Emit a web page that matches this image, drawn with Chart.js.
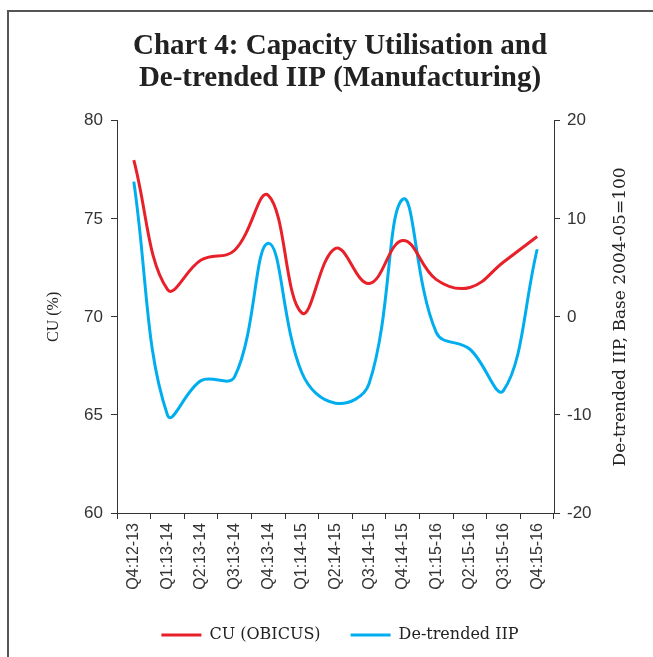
<!DOCTYPE html>
<html>
<head>
<meta charset="utf-8">
<script src="https://cdn.jsdelivr.net/npm/chart.js@4"></script>
<style>
  html, body { margin: 0; padding: 0; background: #fff; }
  #wrap { position: relative; width: 653px; height: 657px; overflow: hidden; }
  #frame { position: absolute; left: 7px; top: 10px; right: -10px; bottom: -10px;
           border-top: 2px solid #555; border-left: 2px solid #555; }
  #c { position: absolute; left: 0; top: 0; }
</style>
</head>
<body>
<div id="wrap">
  <div id="frame"></div>
  <canvas id="c" width="653" height="657"></canvas>
</div>
<script>
const quarters = ['Q4:12-13', 'Q1:13-14', 'Q2:13-14', 'Q3:13-14', 'Q4:13-14', 'Q1:14-15', 'Q2:14-15',
                  'Q3:14-15', 'Q4:14-15', 'Q1:15-16', 'Q2:15-16', 'Q3:15-16', 'Q4:15-16'];
const cuObicus = [78.0, 71.4, 72.9, 73.4, 76.2, 70.2, 73.5, 71.7, 73.9, 71.9, 71.5, 72.8, 74.1];
const detrendedIip = [13.8, -10.0, -6.5, -6.1, 7.5, -5.7, -8.8, -6.8, 12.0, -1.6, -3.3, -7.5, 6.9];

const cuTicks = [60, 65, 70, 75, 80];
const iipTicks = [-20, -10, 0, 10, 20];

const tickFont = { family: 'Liberation Sans', size: 17 };
const axisColor = '#333';

// right title reads bottom-to-top, Chart.js would flip it, so draw it here
const rightTitle = {
    id: 'rightTitle',
    afterDraw(chart) {
        const c = chart.ctx;
        c.save();
        c.translate(621, chart.chartArea.top + (chart.chartArea.bottom - chart.chartArea.top) / 2);
        c.rotate(-Math.PI / 2);
        c.font = '17px "DejaVu Serif"';
        c.fillStyle = '#222';
        c.textAlign = 'center';
        c.textBaseline = 'middle';
        c.fillText('De-trended IIP, Base 2004-05=100', 0, 0);
        c.restore();
    }
};

new Chart(document.getElementById('c'), {
    type: 'line',
    data: {
        labels: quarters,
        datasets: [{
            label: 'CU (OBICUS)',
            data: cuObicus,
            yAxisID: 'y',
            borderColor: '#e8202a',
            backgroundColor: '#e8202a',
            borderWidth: 3,
            pointRadius: 0,
            tension: 0.4
        }, {
            label: 'De-trended IIP',
            data: detrendedIip,
            yAxisID: 'y1',
            borderColor: '#00aeef',
            backgroundColor: '#00aeef',
            borderWidth: 3,
            pointRadius: 0,
            tension: 0.4
        }]
    },
    options: {
        responsive: false,
        animation: false,
        layout: { padding: { left: 41, right: 14, top: 0, bottom: 4 } },
        plugins: {
            title: {
                display: true,
                text: ['Chart 4: Capacity Utilisation and', 'De-trended IIP (Manufacturing)'],
                font: { family: 'Liberation Serif', size: 29, weight: 'bold', lineHeight: 1.1 },
                color: '#222',
                padding: { top: 31, bottom: 26 }
            },
            legend: {
                position: 'bottom',
                labels: {
                    usePointStyle: true,
                    pointStyle: 'line',
                    pointStyleWidth: 40,
                    font: { family: 'DejaVu Serif', size: 16 },
                    color: '#222',
                    padding: 30
                }
            },
            tooltip: { enabled: false }
        },
        scales: {
            x: {
                offset: true,
                grid: { offset: true, drawOnChartArea: false, tickLength: 6, color: axisColor, lineWidth: 1 },
                border: { color: axisColor, width: 1 },
                ticks: { font: { family: 'Liberation Sans', size: 16 }, color: axisColor,
                         minRotation: 90, maxRotation: 90, padding: 4 },
                afterFit(s) { s.height = 84; }
            },
            y: {
                position: 'left',
                min: 60, max: 80,
                afterBuildTicks(s) { s.ticks = cuTicks.map(v => ({ value: v })); },
                grid: { drawOnChartArea: false, tickLength: 6, color: axisColor },
                border: { color: axisColor, width: 1 },
                ticks: { font: tickFont, color: axisColor, padding: 8 },
                title: { display: true, text: 'CU (%)', font: { family: 'Liberation Serif', size: 16 },
                         color: '#222', padding: { top: 3, bottom: 0 } },
                afterFit(s) { s.width = 76; }
            },
            y1: {
                position: 'right',
                min: -20, max: 20,
                afterBuildTicks(s) { s.ticks = iipTicks.map(v => ({ value: v })); },
                grid: { drawOnChartArea: false, tickLength: 6, color: axisColor },
                border: { color: axisColor, width: 1 },
                ticks: { font: tickFont, color: axisColor, padding: 7 },
                afterFit(s) { s.width = 85; }
            }
        }
    },
    plugins: [rightTitle]
});
</script>
</body>
</html>
